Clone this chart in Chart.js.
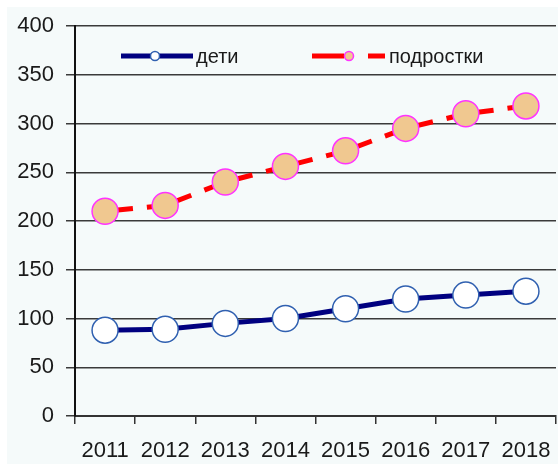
<!DOCTYPE html>
<html>
<head>
<meta charset="utf-8">
<script src="https://cdn.jsdelivr.net/npm/chart.js@4/dist/chart.umd.min.js"></script>
<style>
  html, body { margin: 0; padding: 0; background: #fff; }
  #wrap { width: 558px; height: 464px; }
</style>
</head>
<body>
<div id="wrap"><canvas id="lineChart"></canvas></div>
<script>
// data
var years = ['2011', '2012', '2013', '2014', '2015', '2016', '2017', '2018']
var deti = [88, 89, 95, 100, 110, 120, 124, 128]
var podrostki = [210, 216, 240, 256, 272, 295, 310, 318]
var yTicks = [0, 50, 100, 150, 200, 250, 300, 350, 400]

var FONT = 'Arial, "Liberation Sans", sans-serif'

// light panel behind everything, white strip at top/left like the original
var panelBg = {
    id: 'panelBg',
    beforeDraw: function (chart) {
        var ctx = chart.ctx
        ctx.save()
        ctx.fillStyle = '#f5fafa'
        ctx.fillRect(7, 7, chart.width - 7, chart.height - 7)
        ctx.restore()
    }
}

// legend drawn inside the plot, line + marker + text
var insideLegend = {
    id: 'insideLegend',
    afterDatasetsDraw: function (chart) {
        var ctx = chart.ctx
        var y = 56
        ctx.save()
        ctx.lineCap = 'butt'
        // дети
        ctx.strokeStyle = '#000080'
        ctx.lineWidth = 5
        ctx.beginPath(); ctx.moveTo(121, y); ctx.lineTo(193, y); ctx.stroke()
        ctx.fillStyle = '#ffffff'
        ctx.strokeStyle = '#3060b0'
        ctx.lineWidth = 1.5
        ctx.beginPath(); ctx.arc(155, y, 4.5, 0, Math.PI * 2); ctx.fill(); ctx.stroke()
        // подростки
        ctx.strokeStyle = '#ff0000'
        ctx.lineWidth = 5
        ctx.beginPath(); ctx.moveTo(312, y); ctx.lineTo(344, y); ctx.stroke()
        ctx.beginPath(); ctx.moveTo(368, y); ctx.lineTo(385, y); ctx.stroke()
        ctx.fillStyle = '#f0c890'
        ctx.strokeStyle = '#ff33ff'
        ctx.lineWidth = 1.5
        ctx.beginPath(); ctx.arc(349, y, 4.5, 0, Math.PI * 2); ctx.fill(); ctx.stroke()
        // texts
        ctx.fillStyle = '#1a1a1a'
        ctx.font = '20px ' + FONT
        ctx.textBaseline = 'middle'
        ctx.textAlign = 'left'
        ctx.fillText('дети', 196, y + 1)
        ctx.fillText('подростки', 389, y + 1)
        ctx.restore()
    }
}

var chart = new Chart(document.getElementById('lineChart'), {
    type: 'line',
    data: {
        labels: years,
        datasets: [{
            label: 'дети',
            data: deti,
            borderColor: '#000080',
            borderWidth: 5,
            pointRadius: 13,
            pointHoverRadius: 13,
            pointBackgroundColor: '#ffffff',
            pointBorderColor: '#3060b0',
            pointBorderWidth: 1.5,
            tension: 0
        }, {
            label: 'подростки',
            data: podrostki,
            borderColor: '#ff0000',
            borderWidth: 5,
            borderDash: [28, 14],
            // tiny offset per segment so every segment restarts its dashes
            segment: {
                borderDashOffset: function (c) { return c.p0DataIndex * 0.001 }
            },
            pointRadius: 13,
            pointHoverRadius: 13,
            pointBackgroundColor: '#f0c890',
            pointBorderColor: '#ff33ff',
            pointBorderWidth: 1.5,
            tension: 0
        }]
    },
    options: {
        responsive: true,
        maintainAspectRatio: false,
        animation: false,
        events: [],
        layout: { autoPadding: false, padding: { top: 26, right: 2, left: 0, bottom: 0 } },
        plugins: {
            legend: { display: false },
            tooltip: { enabled: false }
        },
        scales: {
            x: {
                offset: true,
                grid: {
                    offset: true,
                    drawOnChartArea: false,
                    drawTicks: true,
                    tickLength: 8,
                    color: '#333',
                    lineWidth: 1.5
                },
                border: { color: '#333', width: 2 },
                ticks: {
                    color: '#1a1a1a',
                    font: { family: FONT, size: 22 },
                    padding: 14,
                    maxRotation: 0,
                    autoSkip: false
                },
                afterFit: function (scale) {
                    scale.height = 48
                    scale.paddingLeft = 0
                    scale.paddingRight = 0
                }
            },
            y: {
                min: 0,
                max: 400,
                afterBuildTicks: function (scale) {
                    scale.ticks = yTicks.map(function (v) { return { value: v } })
                },
                grid: {
                    color: '#3a3a3a',
                    lineWidth: 1.5,
                    tickLength: 9
                },
                border: { color: '#111', width: 2 },
                ticks: {
                    color: '#1a1a1a',
                    font: { family: FONT, size: 22 },
                    padding: 12
                },
                afterFit: function (scale) { scale.width = 75 }
            }
        }
    },
    plugins: [panelBg, insideLegend]
})
</script>
</body>
</html>
